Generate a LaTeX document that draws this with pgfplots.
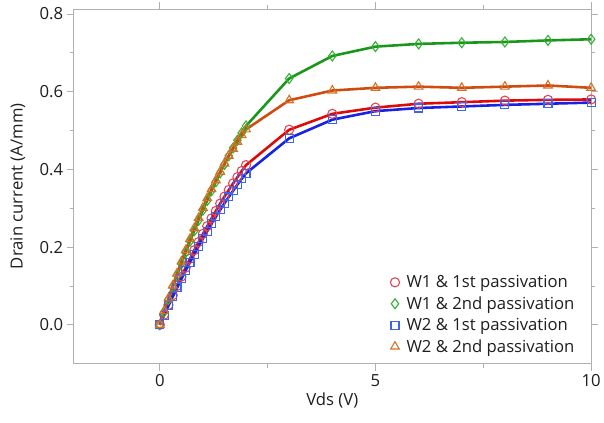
\documentclass[border=0pt]{standalone}
\usepackage{fontspec}
\setmainfont{Open Sans}
\usepackage{pgfplots}
\pgfplotsset{compat=1.18}

\definecolor{redline}{RGB}{222,10,10}
\definecolor{redmark}{RGB}{226,70,85}
\definecolor{greenline}{RGB}{26,150,26}
\definecolor{greenmark}{RGB}{50,176,50}
\definecolor{blueline}{RGB}{22,34,228}
\definecolor{bluemark}{RGB}{60,100,238}
\definecolor{orangeline}{RGB}{208,76,14}
\definecolor{orangemark}{RGB}{214,112,40}
\definecolor{axgray}{RGB}{176,176,176}
\definecolor{txt}{RGB}{30,30,30}

\newcommand{\lbl}{\fontsize{16.8}{19.5}\selectfont\color{txt}}

\begin{document}
\begin{tikzpicture}
\begin{axis}[
    scale only axis,
    width=521pt, height=357pt,
    xmin=-2, xmax=10, ymin=-0.1, ymax=0.813,
    xtick={0,5,10}, ytick={0,0.2,0.4,0.6,0.8},
    minor x tick num=1, minor y tick num=1,
    tick align=outside,
    major tick length=7pt, minor tick length=4pt,
    every tick/.style={axgray, line width=0.8pt},
    axis line style={axgray, line width=0.8pt},
    tick label style={font=\lbl},
    /pgf/number format/assume math mode=true,
    yticklabel style={/pgf/number format/fixed, /pgf/number format/fixed zerofill, /pgf/number format/precision=1},
    xlabel={Vds (V)}, ylabel={Drain current (A/mm)},
    label style={font=\lbl},
    xlabel style={at={(axis description cs:0.5,-0.104)}, anchor=center},
    ylabel style={at={(axis description cs:-0.1075,0.5)}, anchor=center},
    legend style={at={(rel axis cs:0.972,0.022)}, anchor=south east, draw=none, fill=none,
        font=\lbl, row sep=3.5pt, inner sep=0pt,
        /tikz/every odd column/.append style={column sep=5pt}},
    legend cell align=left,
    legend image code/.code={\draw[#1] plot coordinates {(0.12cm,0cm)};},
    every axis plot/.append style={line width=2.6pt},
]
\addplot[redline, mark=o, mark size=4.6pt, mark options={draw=redmark, line width=1.1pt, fill=none}] coordinates {
(0,0) (0.1,0.026) (0.2,0.051) (0.3,0.076) (0.4,0.100) (0.5,0.124) (0.6,0.147) (0.7,0.170)
(0.8,0.192) (0.9,0.213) (1.0,0.234) (1.1,0.254) (1.2,0.274) (1.3,0.293) (1.4,0.312)
(1.5,0.330) (1.6,0.347) (1.7,0.364) (1.8,0.380) (1.9,0.396) (2.0,0.411)
(3,0.502) (4,0.543) (5,0.559) (6,0.569) (7,0.573) (8,0.577) (9,0.579) (10,0.580)};
\addlegendentry{W1 \& 1st passivation}
\addplot[greenline, mark=diamond, mark size=5pt, mark options={draw=greenmark, line width=1.1pt, fill=none}] coordinates {
(0,0) (0.1,0.033) (0.2,0.065) (0.3,0.097) (0.4,0.127) (0.5,0.157) (0.6,0.186) (0.7,0.215)
(0.8,0.242) (0.9,0.269) (1.0,0.295) (1.1,0.320) (1.2,0.345) (1.3,0.368) (1.4,0.391)
(1.5,0.413) (1.6,0.435) (1.7,0.455) (1.8,0.475) (1.9,0.494) (2.0,0.512)
(3,0.634) (4,0.692) (5,0.716) (6,0.723) (7,0.726) (8,0.728) (9,0.732) (10,0.735)};
\addlegendentry{W1 \& 2nd passivation}
\addplot[blueline, mark=square, mark size=4pt, mark options={draw=bluemark, line width=1.1pt, fill=none}] coordinates {
(0,0) (0.1,0.025) (0.2,0.049) (0.3,0.072) (0.4,0.095) (0.5,0.118) (0.6,0.140) (0.7,0.161)
(0.8,0.182) (0.9,0.202) (1.0,0.222) (1.1,0.241) (1.2,0.260) (1.3,0.278) (1.4,0.296)
(1.5,0.313) (1.6,0.329) (1.7,0.345) (1.8,0.361) (1.9,0.376) (2.0,0.390)
(3,0.480) (4,0.528) (5,0.550) (6,0.558) (7,0.562) (8,0.566) (9,0.569) (10,0.572)};
\addlegendentry{W2 \& 1st passivation}
\addplot[orangeline, mark=triangle, mark size=5pt, mark options={draw=orangemark, line width=1.1pt, fill=none}] coordinates {
(0,0) (0.1,0.035) (0.2,0.068) (0.3,0.101) (0.4,0.132) (0.5,0.163) (0.6,0.192) (0.7,0.221)
(0.8,0.249) (0.9,0.275) (1.0,0.301) (1.1,0.326) (1.2,0.349) (1.3,0.372) (1.4,0.394)
(1.5,0.415) (1.6,0.435) (1.7,0.453) (1.8,0.471) (1.9,0.488) (2.0,0.503)
(3,0.578) (4,0.603) (5,0.610) (6,0.613) (7,0.610) (8,0.613) (9,0.616) (10,0.610)};
\addlegendentry{W2 \& 2nd passivation}
\end{axis}
\path ([xshift=-74pt,yshift=-59pt]current axis.south west) rectangle ([xshift=9pt,yshift=9pt]current axis.north east);
\end{tikzpicture}
\end{document}
